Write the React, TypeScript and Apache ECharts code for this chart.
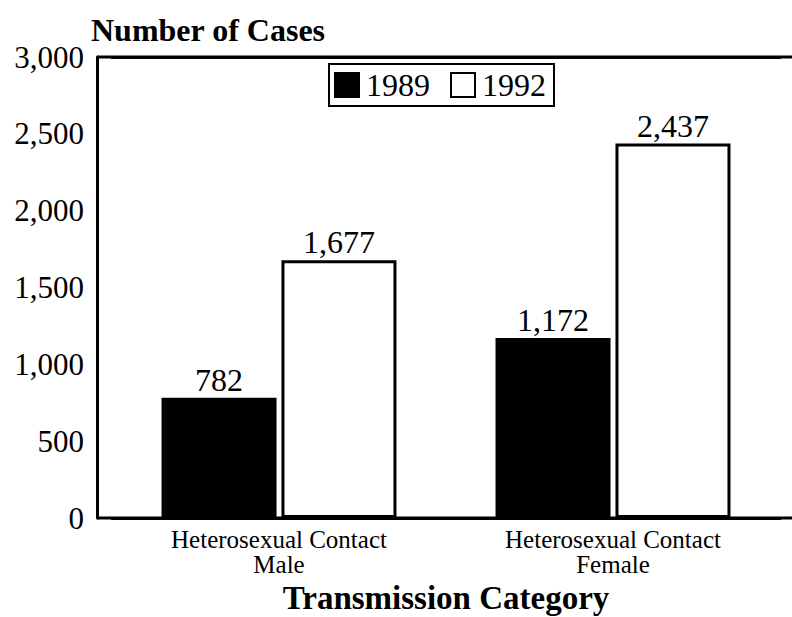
import React, { useEffect, useRef } from "react";
import * as echarts from "echarts";

const categories = ["Heterosexual Contact\nMale", "Heterosexual Contact\nFemale"];
const cases1989 = [782, 1172];
const cases1992 = [1677, 2437];
const yTicks = { min: 0, max: 3000, interval: 500 };

const FONT = "'Liberation Serif', 'Times New Roman', serif";

export default function App() {
  const ref = useRef<HTMLDivElement>(null);
  useEffect(() => {
    if (!ref.current) return;
    const chart = echarts.init(ref.current, null, { renderer: "svg" });
    const fmt = (v: number) => v.toLocaleString("en-US");
    const gridLeft = 112;
    const gridRight = 12;
    const gridTop = 57;
    const gridBottom = 99;
    const H = 617;
    const W = 792;
    chart.setOption({
      animation: false,
      backgroundColor: "#ffffff",
      textStyle: { fontFamily: FONT, color: "#000" },
      title: {
        text: "Number of Cases",
        left: 86,
        top: 9,
        textStyle: { fontFamily: FONT, fontSize: 32, fontWeight: "bold", color: "#000" },
      },
      legend: {
        left: 329,
        top: 64,
        orient: "horizontal",
        data: ["1989", "1992"],
        icon: "rect",
        itemWidth: 24,
        itemHeight: 24,
        itemGap: 20,
        borderColor: "#000",
        borderWidth: 2,
        borderRadius: 0,
        padding: [4, 8, 4, 5],
        textStyle: { fontFamily: FONT, fontSize: 32, lineHeight: 34, color: "#000", padding: [0, 0, 0, 2] },
      },
      grid: {
        left: gridLeft,
        right: gridRight,
        top: gridTop,
        bottom: gridBottom,
        containLabel: false,
        outerBoundsMode: "none",
      },
      graphic: [
        {
          type: "line",
          shape: { x1: 97, y1: gridTop, x2: W, y2: gridTop },
          style: { stroke: "#000", lineWidth: 3 },
          z: 100,
        },
        {
          type: "line",
          shape: { x1: 97, y1: H - gridBottom, x2: W, y2: H - gridBottom },
          style: { stroke: "#000", lineWidth: 3 },
          z: 100,
        },
      ],
      xAxis: [
        {
          type: "category",
          data: categories,
          position: "bottom",
          axisLine: { lineStyle: { color: "#000", width: 3 } },
          axisTick: { show: false },
          axisLabel: {
            fontFamily: FONT,
            fontSize: 25,
            color: "#000",
            lineHeight: 25,
            margin: 9,
          },
          name: "Transmission Category",
          nameLocation: "middle",
          nameGap: 63,
          nameTextStyle: { fontFamily: FONT, fontSize: 33, fontWeight: "bold", color: "#000" },
        },
        {
          type: "category",
          data: categories,
          position: "top",
          axisLine: { lineStyle: { color: "#000", width: 3 } },
          axisTick: { show: false },
          axisLabel: { show: false },
        },
      ],
      yAxis: {
        type: "value",
        min: yTicks.min,
        max: yTicks.max,
        interval: yTicks.interval,
        offset: gridLeft - 97,
        axisLine: { show: true, onZero: false, lineStyle: { color: "#000", width: 3 } },
        axisTick: { show: false },
        splitLine: { show: false },
        axisLabel: {
          fontFamily: FONT,
          fontSize: 31,
          color: "#000",
          margin: 13,
          padding: [8, 0, 0, 0],
          formatter: fmt,
        },
      },
      series: [
        {
          name: "1989",
          type: "bar",
          data: cases1989,
          barWidth: 115,
          barGap: "4.3%",
          itemStyle: { color: "#000", borderColor: "#000", borderWidth: 2 },
          label: {
            show: true,
            position: "top",
            distance: 2,
            fontFamily: FONT,
            fontSize: 32,
            color: "#000",
            formatter: (p: any) => fmt(p.value),
          },
        },
        {
          name: "1992",
          type: "bar",
          data: cases1992,
          barWidth: 115,
          itemStyle: { color: "#fff", borderColor: "#000", borderWidth: 3 },
          label: {
            show: true,
            position: "top",
            distance: 2,
            fontFamily: FONT,
            fontSize: 32,
            color: "#000",
            formatter: (p: any) => fmt(p.value),
          },
        },
      ],
    });
    return () => chart.dispose();
  }, []);
  return <div ref={ref} style={{ width: 792, height: 617, position: "absolute", left: 0, top: 0 }} />;
}
